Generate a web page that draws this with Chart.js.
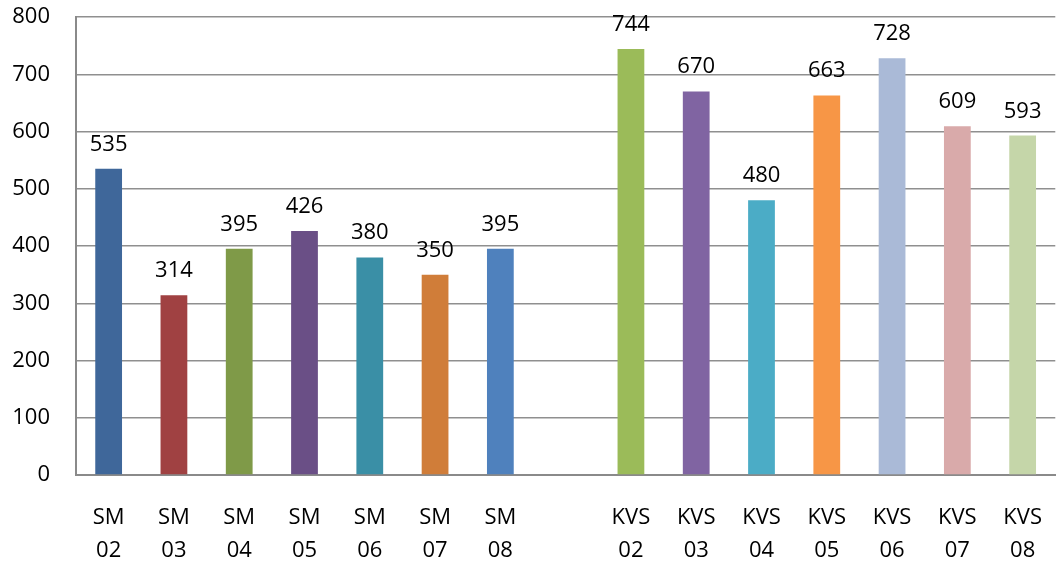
<!DOCTYPE html>
<html>
<head>
<meta charset="utf-8">
<script src="https://cdn.jsdelivr.net/npm/chart.js@4"></script>
<style>
  html, body { margin: 0; padding: 0; background: #fff; overflow: hidden; }
  #wrap { position: relative; width: 1068px; height: 565px; }
</style>
</head>
<body>
<div id="wrap"><canvas id="chart"></canvas></div>
<script>
// ── Data ──────────────────────────────────────────────
var categories = [
  ['SM', '02'], ['SM', '03'], ['SM', '04'], ['SM', '05'], ['SM', '06'], ['SM', '07'], ['SM', '08'],
  '',
  ['KVS', '02'], ['KVS', '03'], ['KVS', '04'], ['KVS', '05'], ['KVS', '06'], ['KVS', '07'], ['KVS', '08']
];
var values = [535, 314, 395, 426, 380, 350, 395, null, 744, 670, 480, 663, 728, 609, 593];
var barColors = [
  '#3F679A', '#A04142', '#7F9A48', '#6A4F86', '#3A8FA6', '#D07D39', '#4F81BD',
  'rgba(0,0,0,0)',
  '#9BBB59', '#8064A2', '#4BACC6', '#F79646', '#AABAD7', '#D9AAAA', '#C5D6A9'
];
var yTicks = [0, 100, 200, 300, 400, 500, 600, 700, 800];

var FONT = '"Open Sans", Lato, sans-serif';

// ── Value labels above bars ───────────────────────────
var valueLabels = {
  id: 'valueLabels',
  afterDatasetsDraw: function (chart) {
    var ctx = chart.ctx;
    var meta = chart.getDatasetMeta(0);
    ctx.save();
    ctx.font = '22px ' + FONT;
    ctx.fillStyle = '#000';
    ctx.textAlign = 'center';
    ctx.textBaseline = 'alphabetic';
    meta.data.forEach(function (bar, i) {
      var v = values[i];
      if (v === null) return;
      ctx.fillText(String(v), bar.x, bar.y - 18);
    });
    ctx.restore();
  }
};

// ── Chart ─────────────────────────────────────────────
new Chart(document.getElementById('chart'), {
  type: 'bar',
  data: {
    labels: categories,
    datasets: [{
      data: values,
      backgroundColor: barColors,
      borderWidth: 0,
      categoryPercentage: 1,
      barPercentage: 0.41
    }]
  },
  options: {
    responsive: true,
    maintainAspectRatio: false,
    animation: false,
    layout: { padding: { top: 17, right: 1, left: 0, bottom: 0 } },
    plugins: { legend: { display: false }, tooltip: { enabled: false } },
    scales: {
      x: {
        grid: { display: false, drawTicks: false },
        border: { display: true, color: '#8a8a8a', width: 2 },
        ticks: {
          color: '#000',
          padding: 26,
          maxRotation: 0,
          autoSkip: false,
          font: { family: FONT, size: 22, lineHeight: 1.5 }
        },
        afterFit: function (scale) { scale.height = 90; }
      },
      y: {
        min: 0,
        max: 800,
        afterBuildTicks: function (scale) {
          scale.ticks = yTicks.map(function (v) { return { value: v }; });
        },
        grid: { color: '#8f8f8f', lineWidth: 1.5, drawTicks: false },
        border: { display: true, color: '#8a8a8a', width: 2 },
        ticks: {
          color: '#000',
          padding: 26,
          font: { family: FONT, size: 22 }
        },
        afterFit: function (scale) {
          scale.width = 76;
          scale.paddingTop = 0;
          scale.paddingBottom = 0;
        }
      }
    }
  },
  plugins: [valueLabels]
});
</script>
</body>
</html>
